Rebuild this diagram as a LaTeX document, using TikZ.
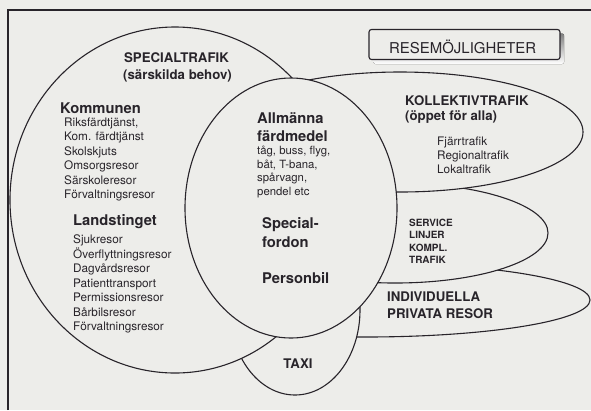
\documentclass[tikz,border=0pt]{standalone}
\usepackage{fontspec}
\setmainfont{TeX Gyre Heros}
\definecolor{paper}{RGB}{237,237,234}
\definecolor{ink}{RGB}{40,36,42}
\definecolor{shade}{RGB}{55,50,55}
\tikzset{
  blob/.style={draw=ink, line width=1.1bp, fill=paper},
  txt/.style={anchor=base west, inner sep=0pt, text=ink},
  bighead/.style={txt, font=\bfseries\fontsize{14.8}{15}\selectfont},
  head/.style={txt, font=\bfseries\fontsize{13.3}{15}\selectfont},
  small/.style={txt, font=\fontsize{11.8}{14}\selectfont},
  tiny/.style={txt, font=\bfseries\fontsize{10}{12}\selectfont},
}

\begin{document}
\begin{tikzpicture}[x=1bp, y=-1bp]
    \fill[paper] (0,0) rectangle (591,410);
    \useasboundingbox (0,0) rectangle (591,410);
    \draw[ink, line width=1.4bp] (8,410) -- (8,10) -- (591,10);

    % title box with its shadow
    \fill[shade, rounded corners=2bp] (373.5,33.5) rectangle (564,64);
    \draw[ink, line width=1.1bp, fill=paper, rounded corners=2.5bp] (369,29.5) rectangle (560,59.5);
    \node at (389,53) (title) [txt, font=\fontsize{15}{15}\selectfont] {RESEMÖJLIGHETER};

    % the areas, back to front
    \draw[blob] (365,300) ellipse [x radius=225bp, y radius=37bp];
    \draw[blob] (395,233) ellipse [x radius=153bp, y radius=50bp];
    \draw[blob] (400,132) ellipse [x radius=183bp, y radius=60bp];
    \draw[blob] (295,310) ellipse [x radius=65bp, y radius=85bp];
    \draw[blob] (175,200) ellipse [x radius=165bp, y radius=173bp];
    \draw[blob] (291,208) ellipse [x radius=106bp, y radius=130bp];

    % special
    \node at (176.5,62) (special) [head, anchor=base] {SPECIALTRAFIK};
    \node at (177.5,79) (behov) [head, anchor=base] {(särskilda behov)};
    \node at (60,113) (kommun) [bighead] {Kommunen};
    \foreach \txt [count=\i from 0] in {{Riksfärdtjänst,}, Kom. färdtjänst, Skolskjuts,
        Omsorgsresor, Särskoleresor, Förvaltningsresor}
      \node at (64,126+14.5*\i) (kom\i) [small] {\txt};
    \node at (73,225) (landst) [bighead] {Landstinget};
    \foreach \txt [count=\i from 0] in {Sjukresor, Överflyttningsresor, Dagvårdsresor,
        Patienttransport, Permissionsresor, Bårbilsresor, Förvaltningsresor}
      \node at (73,243.5+14.5*\i) (land\i) [small] {\txt};

    % allmänna
    \node at (257,123.3) (allm) [bighead] {Allmänna};
    \node at (257,141) (fard) [bighead] {färdmedel};
    \foreach \txt [count=\i from 0] in {{tåg, buss, flyg,}, {båt, T-bana,}, {spårvagn,}, pendel etc}
      \node at (257,154.3+13.8*\i) (allm\i) [small, font=\fontsize{11.4}{13}\selectfont] {\txt};
    \node at (262,228.3) (spec) [bighead] {Special-};
    \node at (262,247.3) (fordon) [bighead] {fordon};
    \node at (262,283.3) (pbil) [bighead] {Personbil};

    % kollektiv
    \node at (405,105) (koll) [head] {KOLLEKTIVTRAFIK};
    \node at (405,120.7) (oppet) [head] {(öppet för alla)};
    \foreach \txt [count=\i from 0] in {Fjärrtrafik, Regionaltrafik, Lokaltrafik}
      \node at (437,145+14.2*\i) (koll\i) [small] {\txt};

    % service, individuella, taxi
    \foreach \txt [count=\i from 0] in {SERVICE, LINJER, KOMPL., TRAFIK}
      \node at (409,226+12.5*\i) (serv\i) [tiny] {\txt};
    \node at (387,301.7) (indiv) [head] {INDIVIDUELLA};
    \node at (387,318.3) (priv) [head] {PRIVATA RESOR};
    \node at (298,368.3) (taxi) [head, anchor=base] {TAXI};
\end{tikzpicture}
\end{document}
